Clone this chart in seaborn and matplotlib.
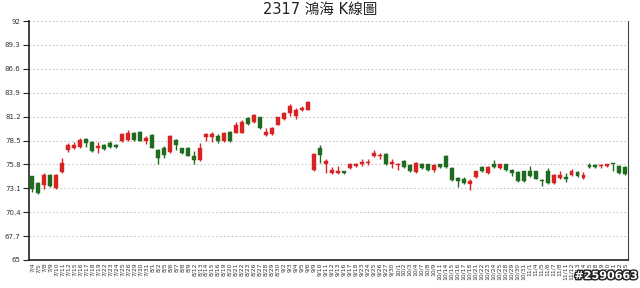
import matplotlib
matplotlib.use("Agg")
import matplotlib.pyplot as plt
import matplotlib.patheffects as pe
import seaborn as sns
import pandas as pd
import numpy as np

title = "2317 鴻海 K線圖"

dates = ["7/4","7/5","7/8","7/9","7/10","7/11","7/12","7/15","7/16","7/17","7/18","7/19",
         "7/22","7/23","7/24","7/25","7/26","7/29","7/30","7/31",
         "8/1","8/2","8/5","8/6","8/7","8/8","8/9","8/12","8/13","8/14","8/15","8/16",
         "8/19","8/20","8/21","8/22","8/23","8/26","8/27","8/28","8/29","8/30",
         "9/2","9/3","9/4","9/5","9/6","9/9","9/10","9/11","9/12","9/13","9/16","9/17",
         "9/18","9/23","9/24","9/25","9/26","9/27","9/30",
         "10/1","10/2","10/3","10/4","10/7","10/8","10/9","10/11","10/14","10/15","10/16",
         "10/17","10/18","10/21","10/22","10/23","10/24","10/25","10/28","10/29","10/30","10/31",
         "11/1","11/4","11/5","11/6","11/7","11/8","11/11","11/12","11/13","11/14","11/15",
         "11/18","11/19","11/20","11/21","11/22","11/25"]

opens = [74.5,73.7,73.5,74.6,73.1,74.9,77.4,77.7,77.8,78.7,
         78.3,77.6,78.0,78.2,78.0,78.4,78.6,79.4,79.5,78.5,
         79.1,77.4,77.7,77.2,78.6,77.6,77.7,76.7,76.3,78.9,
         78.9,79.0,78.4,79.5,79.4,79.4,81.0,80.6,81.1,79.1,
         79.2,80.3,80.9,81.6,81.3,81.9,82.0,75.2,77.6,75.9,
         74.8,74.8,75.0,75.4,75.6,75.9,76.0,76.8,76.7,77.0,
         75.9,75.7,76.2,75.7,74.9,75.9,75.8,75.2,75.8,76.8,
         75.4,74.3,74.1,73.6,74.4,75.5,74.8,75.8,75.4,75.8,
         75.2,74.9,75.0,75.0,75.0,74.0,75.0,73.7,74.3,74.4,
         74.6,74.9,74.3,75.7,75.7,75.6,75.6,75.9,75.6,75.5]
highs = [74.5,73.8,74.8,74.7,74.7,76.5,78.2,78.3,78.8,78.8,
         78.4,78.3,78.1,78.5,78.1,79.4,79.7,79.5,79.6,79.0,
         79.2,77.5,77.9,79.1,78.7,77.7,77.8,77.3,78.2,79.4,
         79.5,79.2,79.5,79.6,80.6,80.8,81.1,81.5,81.2,79.9,
         80.0,81.2,81.7,82.6,82.2,82.4,83.0,77.1,78.0,76.4,
         75.5,75.6,75.1,76.0,76.0,76.4,76.4,77.4,77.1,77.1,
         76.4,76.0,76.3,75.8,76.1,76.0,75.9,75.8,75.9,76.9,
         75.5,74.4,74.4,74.1,75.1,75.6,75.6,76.3,75.9,75.9,
         75.3,75.0,75.1,75.6,75.1,74.1,75.4,74.7,75.0,74.8,
         75.3,75.0,74.9,76.0,75.8,75.9,75.9,76.0,75.7,75.6]
lows = [72.7,72.4,73.0,73.3,73.0,74.8,77.2,77.5,77.7,77.8,
        77.2,77.1,77.4,77.7,77.7,78.3,78.5,78.5,78.4,78.1,
        77.6,75.9,76.5,77.1,77.4,77.0,76.7,75.9,76.2,78.4,
        78.3,78.2,78.3,78.3,79.3,79.3,80.3,80.5,79.8,79.0,
        79.1,80.2,80.8,81.3,80.9,81.8,81.9,75.0,76.0,74.8,
        74.7,74.7,74.7,75.3,75.5,75.6,75.7,76.6,76.4,75.7,
        75.4,75.2,75.4,74.9,74.8,75.3,75.1,74.9,75.4,75.4,
        73.9,73.2,73.6,72.9,74.3,74.9,74.7,75.4,75.3,75.1,
        74.5,73.8,73.8,74.4,74.1,73.4,73.6,73.6,74.1,73.8,
        74.5,74.4,74.1,75.4,75.4,75.4,75.5,75.0,74.7,74.6]
closes = [73.0,72.6,74.6,73.4,74.6,76.0,78.0,78.0,78.6,78.2,
          77.3,77.9,77.5,77.8,77.8,79.2,79.4,78.6,78.5,78.8,
          77.7,76.5,76.9,79.0,78.0,77.1,76.8,76.3,77.6,79.2,
          79.2,78.5,79.3,78.4,80.3,80.6,80.4,81.4,79.9,79.5,
          79.9,81.1,81.6,82.4,82.0,82.2,82.9,77.0,76.9,76.2,
          75.2,75.1,74.8,75.9,75.9,76.1,76.1,77.1,76.9,75.8,
          76.1,75.9,75.5,75.0,76.0,75.4,75.2,75.7,75.5,75.5,
          74.0,73.9,73.7,73.9,75.0,75.0,75.5,75.5,75.8,75.2,
          74.8,73.9,73.9,74.5,74.2,73.9,73.7,74.6,74.6,74.1,
          75.1,74.5,74.6,75.5,75.5,75.7,75.8,75.8,74.8,74.7]

y_ticks = [65, 67.7, 70.4, 73.1, 75.8, 78.5, 81.2, 83.9, 86.6, 89.3, 92]
y_tick_labels = ["65", "67.7", "70.4", "73.1", "75.8", "78.5", "81.2", "83.9", "86.6", "89.3", "92"]

UP = "#d92323"
DOWN = "#1f6b1f"

df = pd.DataFrame({"date": dates, "open": opens, "high": highs, "low": lows, "close": closes})
df["pos"] = np.arange(len(df))
df["up"] = df["close"] >= df["open"]
df["bottom"] = df[["open", "close"]].min(axis=1)
df["height"] = (df["close"] - df["open"]).abs().clip(lower=0.12)
df["color"] = np.where(df["up"], UP, DOWN)

sns.set_style("white")
plt.rcParams["font.family"] = ["DejaVu Sans", "Noto Sans CJK TC"]

fig = plt.figure(figsize=(6.4, 2.88), dpi=100)
ax = fig.add_axes([29 / 640, 1 - 260 / 288, (628 - 29) / 640, (260 - 21) / 288])

# wicks
ax.vlines(df["pos"], df["low"], df["high"], colors=df["color"], linewidth=1.0, zorder=2)
# bodies
ax.bar(df["pos"], df["height"], bottom=df["bottom"], width=0.66,
       color=df["color"], edgecolor=df["color"], linewidth=0.3, zorder=3)

ax.set_xlim(-0.57, len(df) - 0.57)
ax.set_ylim(65, 92)
ax.set_yticks(y_ticks)
ax.set_yticklabels(y_tick_labels, fontsize=5, color="#333333")
ax.set_xticks(df["pos"])
ax.set_xticklabels(df["date"], rotation=90, fontsize=4.3, color="#333333")
ax.tick_params(axis="x", length=0, pad=2)
ax.tick_params(axis="y", length=4, width=0.8, color="#222222", pad=2, direction="out", left=True)

ax.grid(axis="y", linestyle=(0, (1.5, 2.5)), color="#bbbbbb", linewidth=0.7, zorder=0)
ax.grid(axis="x", visible=False)
for side in ["left", "bottom"]:
    ax.spines[side].set_color("#222222")
    ax.spines[side].set_linewidth(1.2)
ax.spines["right"].set_color("#444444")
ax.spines["right"].set_linewidth(0.8)
ax.spines["top"].set_visible(False)

fig.text(0.5, 1 - 9 / 288, title, ha="center", va="center", fontsize=10.5,
         family=["DejaVu Sans", "Noto Sans CJK TC"], color="#222222")

fig.text(0.997, 1 - 276 / 288, "#2590663", ha="right", va="center", fontsize=8, fontweight="bold",
         color="white", path_effects=[pe.withStroke(linewidth=2, foreground="#222222")])

fig.savefig("out.png", dpi=100)
